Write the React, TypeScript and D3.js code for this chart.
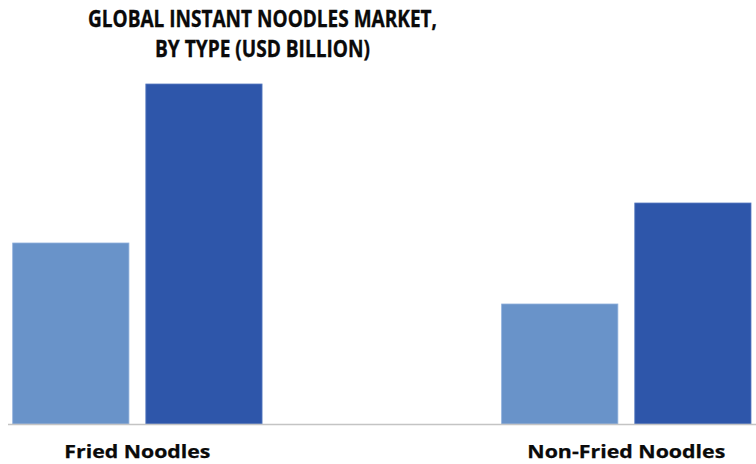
import React from "react";
import * as d3 from "d3";

const categories = ["Fried Noodles", "Non-Fried Noodles"];
const series = ["2019", "2027"];
const values2019 = [18.1, 12.0];
const values2027 = [34.0, 22.1];
const titleLines = ["GLOBAL INSTANT NOODLES MARKET,", "BY TYPE (USD BILLION)"];

const W = 756;
const H = 464;
const colors = ["#6993c9", "#2e56aa"];

export default function App() {
  const x0 = d3.scaleBand<string>().domain(categories).range([12.7, 751]).paddingInner(0.49).paddingOuter(0);
  const x1 = d3.scaleBand<string>().domain(series).range([0, x0.bandwidth()]).paddingInner(0.127);
  const y = d3.scaleLinear().domain([0, 40]).range([424, 24]);
  const seriesValues = [values2019, values2027];
  const labelWidths = [146, 198];
  const titleWidths = [349, 215];

  return (
    <svg
      width={W}
      height={H}
      style={{ position: "absolute", left: 0, top: 0, background: "#fff" }}
      fontFamily="'Open Sans', sans-serif"
    >
      {titleLines.map((t, i) => (
        <text
          key={t}
          x={262.5}
          y={26.5 + i * 30}
          textAnchor="middle"
          fontWeight="bold"
          fontSize={23.5}
          fill="#0a0a0a"
          stroke="#0a0a0a"
          strokeWidth={0.35}
          textLength={titleWidths[i]}
          lengthAdjust="spacingAndGlyphs"
        >
          {t}
        </text>
      ))}
      {categories.map((c, ci) => (
        <g key={c} transform={`translate(${x0(c)},0)`}>
          {series.map((s, si) => {
            const v = seriesValues[si][ci];
            return (
              <rect
                key={s}
                x={x1(s)}
                y={y(v)}
                width={x1.bandwidth()}
                height={y(0) - y(v)}
                fill={colors[si]}
                stroke={si === 0 ? "#8fb0dc" : "#5a7cc0"}
                strokeWidth={0.8}
              />
            );
          })}
        </g>
      ))}
      <line x1={8} x2={W} y1={424.5} y2={424.5} stroke="#c4c4c4" strokeWidth={1.5} />
      {categories.map((c, ci) => (
        <text
          key={c}
          x={(x0(c) as number) + x0.bandwidth() / 2}
          y={457.5}
          textAnchor="middle"
          fontWeight="bold"
          fontSize={17.5}
          fill="#0a0a0a"
          stroke="#0a0a0a"
          strokeWidth={0.25}
          textLength={labelWidths[ci]}
          lengthAdjust="spacingAndGlyphs"
        >
          {c}
        </text>
      ))}
    </svg>
  );
}
